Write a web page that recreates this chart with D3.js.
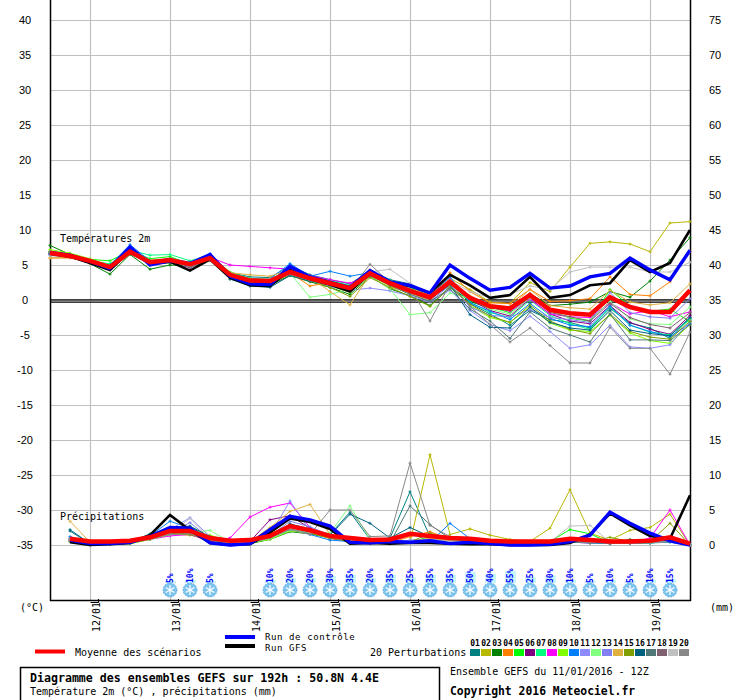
<!DOCTYPE html>
<html>
<head>
<meta charset="utf-8">
<script src="https://cdnjs.cloudflare.com/ajax/libs/d3/7.8.5/d3.min.js"></script>
<style>
  body { margin: 0; background: #fff; }
  svg { display: block; }
  text { fill: #000; }
</style>
</head>
<body>
<svg id="chart"></svg>
<script>
const runStart = Date.UTC(2016, 0, 11, 12);
const tempHours = d3.range(0, 193, 6);   // 0 .. 192h
const precHours = d3.range(6, 193, 6);   // 6 .. 192h

const tempTicks = [40, 35, 30, 25, 20, 15, 10, 5, 0, -5, -10, -15, -20, -25, -30, -35];
const precTicks = [75, 70, 65, 60, 55, 50, 45, 40, 35, 30, 25, 20, 15, 10, 5, 0];

const tempMean = [6.7,6.3,5.6,4.7,6.9,5.4,5.7,5.1,6.0,3.6,2.8,2.7,4.0,3.1,2.4,1.7,3.8,2.4,1.3,0.4,2.6,0.3,-0.9,-1.2,0.7,-1.4,-1.9,-2.1,0.4,-1.0,-1.7,-1.7,1.4];
const tempCtrl = [6.8,6.4,5.5,4.5,7.6,5.0,5.6,5.2,6.5,3.4,2.3,2.2,4.8,3.3,2.5,1.8,4.2,2.6,2.1,1.0,5.0,3.1,1.4,1.8,3.8,1.7,2.0,3.3,3.8,6.0,4.3,2.9,7.1];
const tempGfs  = [6.6,6.2,5.3,4.3,7.0,5.2,5.5,4.2,5.8,3.2,2.1,2.0,4.3,3.0,2.2,1.2,3.9,2.5,2.0,1.0,3.6,2.1,0.3,0.7,3.3,0.3,0.7,2.1,2.4,5.7,4.0,5.3,10.0];

const tempPerts = [
  [6.5,6.2,5.3,4.4,6.6,5.6,5.9,5.3,6.2,3.9,3.3,3.2,4.9,3.6,2.9,2.3,4.2,2.9,2.3,0.8,2.7,-0.5,-2.0,-3.6,-1.5,-2.8,-3.2,-4.0,-1.2,-3.3,-4.0,-5.5,-2.6],
  [7.0,6.6,5.8,5.0,7.2,5.0,5.3,4.8,5.9,3.3,2.5,2.4,3.6,2.9,2.6,1.9,4.0,2.7,1.9,0.6,3.1,1.5,-0.3,-0.5,2.5,1.2,4.7,8.1,8.3,8.0,6.9,11.0,11.2],
  [7.8,6.5,5.2,3.7,6.5,4.4,5.0,4.9,5.8,3.0,2.2,2.1,3.5,2.6,1.8,0.8,3.4,1.6,0.6,-0.8,1.9,-0.2,-1.2,-1.0,0.9,-0.8,-0.6,-0.3,1.2,0.4,2.7,5.7,8.9],
  [6.0,6.0,5.4,4.9,7.0,5.7,5.8,5.3,6.1,3.8,3.0,2.9,3.9,2.0,2.5,1.5,4.3,1.9,1.0,0.0,3.9,1.2,-0.4,-0.5,1.5,-0.2,-0.1,0.2,3.3,0.8,0.6,2.6,6.9],
  [6.9,6.5,5.8,5.6,7.0,5.9,6.2,5.1,6.3,4.0,3.0,2.9,4.2,3.4,2.8,2.0,4.0,2.6,1.8,0.2,2.4,0.0,-1.0,-1.8,0.5,-1.5,-2.6,-3.0,1.5,-0.9,-1.6,-1.3,-3.1],
  [6.6,6.4,5.6,4.5,7.2,5.3,5.4,4.6,5.9,3.5,2.8,2.8,4.1,3.2,2.4,1.6,3.6,2.2,1.2,0.5,2.3,0.1,-1.5,-2.3,0.2,-2.0,-3.0,-3.4,-0.8,-3.2,-4.2,-4.9,-2.2],
  [6.8,6.4,5.5,5.2,7.1,6.4,6.5,5.6,6.4,3.9,3.1,3.0,4.3,3.3,2.7,2.1,4.1,2.8,1.9,0.9,2.5,-0.3,-1.8,-2.5,0.0,-2.2,-3.4,-4.2,-1.0,-3.6,-4.6,-5.0,-2.8],
  [6.6,6.3,5.6,4.6,6.8,5.5,5.6,5.0,6.1,5.0,4.8,4.6,4.4,3.5,2.9,2.4,3.6,2.5,1.5,0.5,3.0,0.4,-1.0,-1.6,0.1,-2.0,-2.4,-2.5,-0.4,-2.0,-1.5,-2.4,-1.7],
  [7.2,6.7,5.9,4.8,6.7,5.2,5.5,5.0,5.9,3.4,2.4,2.3,3.7,2.8,2.0,1.1,3.5,2.0,0.9,0.4,2.0,-0.8,-2.5,-3.2,-1.0,-3.3,-4.3,-4.5,-2.2,-4.7,-5.8,-6.2,-3.5],
  [6.4,6.1,5.4,5.0,7.9,5.6,5.9,5.4,6.6,3.7,2.6,3.0,5.2,3.4,4.1,3.4,3.9,2.5,1.5,0.6,3.3,-0.4,-1.6,-2.8,-0.5,-2.6,-3.6,-3.8,-0.9,-3.6,-4.5,-5.2,-3.4],
  [6.5,6.3,5.7,4.6,6.8,5.6,5.7,5.0,6.0,3.2,2.6,2.5,4.1,3.0,1.9,1.4,1.7,1.3,0.6,-0.3,1.4,-1.5,-3.5,-4.4,-2.3,-4.5,-6.9,-6.4,-3.6,-6.7,-6.9,-6.4,-3.0],
  [6.8,6.4,5.7,4.9,6.7,5.4,5.7,5.1,6.0,3.3,2.5,2.6,3.8,0.4,0.8,1.6,3.4,1.6,-2.1,-1.8,1.0,0.2,-1.3,-2.0,0.3,-1.6,-2.5,-2.9,-0.2,-2.7,-3.4,-3.5,-1.0],
  [6.7,6.3,5.6,4.8,7.0,5.4,5.6,5.0,6.0,3.7,2.9,2.8,4.0,3.1,2.4,1.7,3.8,2.3,1.0,-0.2,2.1,-1.0,-2.2,-2.4,-1.4,-2.5,-2.8,-3.2,1.1,-1.8,-2.4,-2.6,0.2],
  [6.0,6.1,5.2,4.5,6.6,5.2,5.5,4.8,5.8,3.9,3.6,3.4,4.3,3.3,1.2,-0.7,3.7,2.1,0.9,-0.1,2.6,0.6,-0.7,-1.0,1.5,-0.8,-1.1,-1.3,1.4,-0.3,-0.7,-0.4,2.3],
  [6.9,6.3,5.5,4.5,6.6,5.3,5.6,5.0,5.9,3.4,2.6,2.5,3.8,2.9,1.8,0.5,3.2,1.8,0.5,-0.9,1.8,-0.6,-2.3,-3.2,-0.7,-3.0,-4.2,-4.8,-2.0,-4.5,-5.3,-5.6,-3.0],
  [6.7,6.2,5.5,4.4,6.9,5.4,5.3,4.8,6.0,3.0,2.0,1.8,3.5,2.7,2.2,1.4,3.5,2.3,1.1,0.1,2.2,-2.1,-3.9,-4.0,-1.0,-3.2,-4.0,-4.3,-1.5,-4.3,-4.8,-5.1,-2.5],
  [6.6,6.4,5.4,4.3,6.8,5.3,5.6,5.0,5.9,3.4,2.6,2.6,3.8,3.0,2.1,1.3,3.5,2.1,0.8,-0.2,1.6,-1.3,-3.0,-5.5,-1.7,-4.0,-5.0,-6.0,-2.0,-5.7,-5.7,-5.8,-3.5],
  [6.8,6.5,5.6,4.7,6.8,5.5,5.8,5.1,6.1,3.6,2.8,2.7,4.0,3.2,2.6,1.8,4.1,2.5,1.3,0.3,2.4,0.2,-1.1,-1.5,0.6,-1.8,-2.4,-3.0,-0.5,-2.5,-3.5,-4.0,-1.8],
  [6.3,6.2,5.4,4.6,6.8,5.3,5.5,5.1,6.0,3.8,3.0,3.0,4.2,3.1,2.5,1.6,4.0,4.4,2.4,0.8,2.8,1.2,0.3,0.8,2.0,1.5,4.0,4.7,4.7,4.7,4.0,4.0,5.4],
  [6.9,6.4,5.6,4.4,6.6,5.1,5.4,4.7,5.6,3.3,2.4,2.3,3.7,2.8,2.1,1.5,5.1,2.5,1.7,-3.0,2.3,-0.9,-3.5,-6.0,-4.0,-6.5,-9.0,-9.0,-3.9,-6.9,-6.9,-10.6,-4.6]
];

const precMean = [0.9,0.5,0.5,0.6,1.1,2.0,2.0,1.0,0.6,0.7,1.3,2.7,2.1,1.3,1.0,0.7,0.8,1.6,1.3,1.0,0.9,0.6,0.5,0.5,0.5,0.9,0.7,0.5,0.5,0.6,1.1,0.2];
const precCtrl = [0.7,0.2,0.2,0.4,1.2,2.5,2.4,0.3,0.0,0.2,2.2,4.1,3.6,2.7,0.4,0.3,0.5,0.4,0.6,0.2,0.4,0.2,0.0,0.0,0.1,0.5,1.4,4.7,3.1,1.7,0.6,0.0];
const precGfs  = [0.4,0.0,0.1,0.3,1.4,4.3,2.1,0.3,0.0,0.1,1.8,3.8,3.3,2.3,0.2,0.3,0.2,0.3,0.3,0.2,0.1,0.1,0.0,0.0,0.0,0.3,1.5,4.5,2.8,1.3,0.9,7.1];

const precPerts = [
  [2.2,0.2,0.3,0.4,1.6,2.3,2.6,1.0,0.4,0.5,1.2,3.0,2.2,1.5,4.7,0.8,1.0,7.6,1.2,0.5,0.6,0.3,0.2,0.2,0.2,0.6,0.4,0.3,0.2,0.4,0.6,0.0],
  [0.8,0.2,0.2,0.3,0.9,1.6,1.4,0.8,0.3,0.4,1.0,2.0,1.8,1.0,0.8,0.5,0.3,0.3,12.9,1.5,2.3,1.4,0.8,0.5,2.4,7.9,1.7,0.7,2.1,2.5,4.4,0.0],
  [0.6,0.0,0.1,0.2,0.8,1.5,1.8,0.5,0.1,0.2,0.8,1.9,1.6,1.0,0.6,0.3,0.2,0.4,0.6,0.3,0.3,0.2,0.2,0.2,0.3,0.5,0.4,0.2,0.8,0.5,0.6,0.0],
  [1.0,0.3,0.2,0.3,1.0,1.8,2.0,0.7,0.3,0.4,1.6,2.9,1.8,0.9,0.5,0.4,0.3,1.2,1.9,0.8,0.6,0.4,0.2,0.2,0.3,0.6,0.4,0.3,0.4,0.5,0.8,0.0],
  [0.7,0.1,0.2,0.3,0.9,1.7,1.6,0.9,0.4,0.3,1.0,2.4,2.0,1.2,0.6,0.3,0.5,0.4,1.2,0.9,0.6,0.4,0.3,0.4,0.5,2.2,1.6,0.3,0.4,0.4,0.5,0.0],
  [0.5,0.1,0.2,0.4,1.0,1.9,2.0,0.6,0.2,0.5,3.6,4.2,2.4,1.1,0.4,0.3,0.2,0.5,0.6,0.4,0.3,0.2,0.2,0.1,0.2,0.4,0.3,0.2,0.3,0.3,0.5,0.0],
  [0.6,0.1,0.1,0.3,1.1,1.7,2.1,1.2,0.3,0.3,0.9,2.2,1.9,1.3,0.8,0.4,0.3,0.6,0.8,0.5,0.4,0.3,0.2,0.2,0.4,0.8,0.5,0.3,0.3,0.3,0.5,0.0],
  [0.8,0.1,0.2,0.3,0.8,1.3,1.5,0.5,1.0,4.0,5.4,6.0,2.5,1.0,0.5,0.4,0.3,0.5,0.6,0.4,0.3,0.3,0.2,0.2,0.3,0.4,0.3,0.2,0.3,1.0,5.0,0.0],
  [0.5,0.1,0.1,0.2,0.8,1.5,1.9,1.4,0.5,0.3,0.8,2.0,1.7,1.1,0.6,0.4,0.3,0.6,0.7,0.5,0.3,0.3,0.2,0.3,0.2,0.5,0.3,0.2,0.3,0.3,0.4,0.0],
  [1.2,0.2,0.2,0.3,1.3,3.4,2.4,0.8,0.3,0.4,1.1,2.6,1.5,0.7,0.5,0.3,0.3,0.5,0.4,3.1,0.9,0.5,0.3,0.2,0.2,0.4,0.3,0.2,0.3,0.3,0.4,0.0],
  [0.6,0.1,0.2,0.4,1.2,2.2,3.9,1.2,0.3,0.3,1.4,6.3,2.0,1.2,0.6,0.4,0.3,1.5,0.8,0.6,0.4,0.3,0.2,0.2,0.3,0.5,0.5,0.4,0.3,0.5,0.6,0.0],
  [0.7,0.2,0.2,0.3,1.0,1.8,1.7,2.1,0.4,0.3,0.9,2.1,1.8,1.7,5.6,0.8,0.4,0.6,0.9,0.7,0.5,0.4,0.3,0.3,0.4,0.8,0.5,0.3,0.4,0.4,0.5,0.0],
  [0.9,0.2,0.2,0.3,1.0,1.7,3.2,0.9,0.3,0.4,1.3,3.4,2.6,1.4,0.7,0.4,0.4,0.7,0.8,0.6,0.4,0.3,0.2,0.2,0.3,0.6,0.4,0.3,0.3,0.4,0.5,0.0],
  [3.4,0.4,0.2,0.3,1.0,1.8,1.9,0.8,0.3,0.5,2.5,4.8,5.8,1.5,0.6,0.4,0.3,0.5,1.0,0.6,0.5,0.4,0.3,0.3,0.4,0.6,0.4,0.3,0.4,0.5,0.7,0.0],
  [0.6,0.1,0.1,0.3,0.9,1.6,1.5,0.7,0.3,0.3,1.0,2.5,1.7,1.0,0.5,0.3,0.3,0.4,1.7,0.9,0.4,0.3,0.2,0.2,0.3,0.5,0.4,1.1,0.5,0.5,3.1,0.0],
  [2.0,0.2,0.2,0.3,1.3,2.5,2.7,1.2,0.4,0.5,1.2,3.0,2.3,1.4,4.4,3.1,1.0,2.5,1.2,0.9,0.6,0.4,0.3,0.3,0.4,0.6,0.5,0.3,0.4,0.5,0.6,0.0],
  [0.8,0.2,0.2,0.3,1.1,2.0,2.2,0.8,0.3,0.4,1.2,2.8,2.0,1.3,0.7,0.4,0.3,5.6,2.9,0.9,0.5,0.3,0.2,0.2,0.3,0.5,0.4,0.3,0.3,0.4,0.5,0.0],
  [0.6,0.1,0.2,0.3,0.9,1.7,1.8,0.7,0.3,0.4,1.1,2.3,1.8,1.1,0.6,0.4,0.3,0.5,0.6,0.5,0.4,0.3,0.2,0.2,0.3,0.5,0.4,0.3,0.3,0.4,0.5,0.0],
  [0.7,0.2,0.2,0.3,1.0,1.6,3.8,0.9,0.3,0.4,1.0,2.4,1.8,1.2,0.6,0.5,0.4,0.6,0.7,0.5,0.4,0.3,0.2,0.2,0.4,2.7,2.8,0.4,0.3,0.4,0.5,0.0],
  [0.5,0.1,0.1,0.3,0.9,1.5,1.6,0.6,0.2,0.3,1.0,2.2,1.5,5.0,5.0,1.2,1.3,11.7,2.8,1.2,0.5,0.3,0.2,0.2,0.3,0.5,0.4,0.3,0.3,0.4,0.5,0.0]
];

const pertNames = ['01','02','03','04','05','06','07','08','09','10','11','12','13','14','15','16','17','18','19','20'];
const pertColors = ['#008080','#b8b800','#008000','#ff8000','#00ff00','#800080','#00ff80','#ff00ff','#80ff00','#0080ff',
                    '#8c8cff','#80ff80','#8080f0','#e0b040','#80a000','#006080','#507878','#806070','#c0c0c0','#888888'];

const snowHours = [36,42,48,66,72,78,84,90,96,102,108,114,120,126,132,138,144,150,156,162,168,174,180,186];
const snowPct   = [5,10,5,10,20,20,30,35,20,35,25,35,35,50,40,55,25,30,10,5,10,5,10,15];

// --- layout ---
const W = 740, H = 700;
const left = 50, right = 690, bottom = 600;
const mono = '"DejaVu Sans Mono", monospace';
const sans = '"Liberation Sans", Arial, sans-serif';

const svg = d3.select('#chart').attr('width', W).attr('height', H);

const hourDate = h => new Date(runStart + h * 3600e3);
const x = d3.scaleUtc().domain([hourDate(0), hourDate(192)]).range([left, right]);
const yT = d3.scaleLinear().domain([-35, 40]).range([545, 20]);
const yP = d3.scaleLinear().domain([0, 75]).range([545, 20]);

// grid
const grid = svg.append('g');
grid.selectAll('line.h').data(tempTicks).join('line')
  .attr('x1', left).attr('x2', right)
  .attr('y1', d => yT(d) + 0.5).attr('y2', d => yT(d) + 0.5)
  .attr('stroke', '#c0c0c0').attr('stroke-width', 1.2);

const days = x.ticks(d3.utcDay.every(1)).filter(d => d.getUTCHours() === 0);
grid.selectAll('line.v').data(days).join('line')
  .attr('x1', d => x(d) + 0.5).attr('x2', d => x(d) + 0.5)
  .attr('y1', 0).attr('y2', bottom)
  .attr('stroke', '#c0c0c0').attr('stroke-width', 1.2);

// zero line (double)
[-0.2, 2.2].forEach(off => {
  svg.append('line').attr('x1', left).attr('x2', right)
    .attr('y1', yT(0) + off).attr('y2', yT(0) + off)
    .attr('stroke', '#000').attr('stroke-width', 1.3);
});

// frame
svg.append('path')
  .attr('d', `M${left + 0.5},0V${bottom + 0.5}H${right + 0.5}V0`)
  .attr('fill', 'none').attr('stroke', '#000').attr('stroke-width', 1.5);

// tick labels
svg.append('g').selectAll('text').data(tempTicks).join('text')
  .attr('x', 25).attr('y', d => yT(d) + 4)
  .attr('text-anchor', 'middle')
  .style('font', `11px ${sans}`)
  .text(d => d);

svg.append('g').selectAll('text').data(precTicks).join('text')
  .attr('x', 709).attr('y', d => yP(d) + 4)
  .style('font', `11px ${sans}`)
  .text(d => d);

const fmtDay = d3.utcFormat('%d/%m');
svg.append('g').selectAll('text').data(days).join('text')
  .attr('transform', d => `translate(${x(d) + 10},602) rotate(-90)`)
  .attr('text-anchor', 'end')
  .style('font', `10px ${mono}`)
  .text(d => fmtDay(d));

svg.append('g').selectAll('path').data(days).join('path')
  .attr('d', d => `M${x(d) + 0.5},602.5H${x(d) + 8.5}V599`)
  .attr('fill', 'none').attr('stroke', '#000').attr('stroke-width', 1);

svg.append('text').attr('x', 20).attr('y', 611).style('font', `10px ${mono}`).text('(°C)');
svg.append('text').attr('x', 710).attr('y', 611).style('font', `10px ${mono}`).text('(mm)');

svg.append('text').attr('x', 60).attr('y', 242).style('font', `10px ${mono}`).text('Températures 2m');
svg.append('text').attr('x', 60).attr('y', 520).style('font', `10px ${mono}`).text('Précipitations');

// series
const lineT = d3.line().x((d, i) => x(hourDate(tempHours[i]))).y(d => yT(d));
const lineP = d3.line().x((d, i) => x(hourDate(precHours[i]))).y(d => yP(d));
const plus = 'M-1.5,0H1.5M0,-1.5V1.5';

function drawSeries(values, hours, line, yScale, color, width, marks) {
  const g = svg.append('g');
  g.append('path').attr('d', line(values))
    .attr('fill', 'none').attr('stroke', color)
    .attr('stroke-width', width).attr('stroke-linejoin', 'miter');
  if (marks) {
    g.selectAll('path.m').data(values).join('path')
      .attr('class', 'm')
      .attr('transform', (d, i) => `translate(${x(hourDate(hours[i]))},${yScale(d)})`)
      .attr('d', plus).attr('stroke', color).attr('stroke-width', 1);
  }
}

tempPerts.forEach((s, k) => drawSeries(s, tempHours, lineT, yT, pertColors[k], 1, true));
precPerts.forEach((s, k) => drawSeries(s, precHours, lineP, yP, pertColors[k], 1, true));

drawSeries(tempGfs, tempHours, lineT, yT, '#000', 2.6, false);
drawSeries(precGfs, precHours, lineP, yP, '#000', 2.6, false);
drawSeries(tempCtrl, tempHours, lineT, yT, '#0000ff', 3.4, false);
drawSeries(precCtrl, precHours, lineP, yP, '#0000ff', 3.4, false);
drawSeries(tempMean, tempHours, lineT, yT, '#ff0000', 4.5, false);
drawSeries(precMean, precHours, lineP, yP, '#ff0000', 4.5, false);

// snow probability row
const snow = svg.append('g').selectAll('g').data(snowHours).join('g')
  .attr('transform', d => `translate(${x(hourDate(d))},0)`);

snow.append('rect')
  .attr('x', -5).attr('width', 11)
  .attr('y', (d, i) => 583 - (snowPct[i] / 5 + 1))
  .attr('height', (d, i) => snowPct[i] / 5 + 1)
  .attr('fill', '#c8f4fc');

snow.append('text')
  .attr('transform', 'translate(3,583) rotate(-90)')
  .style('font', `bold 8px ${mono}`)
  .style('fill', '#0000ff')
  .text((d, i) => snowPct[i] + '%');

snow.append('circle').attr('cx', 0).attr('cy', 590).attr('r', 7)
  .attr('fill', '#7cc4ee');
[0, 60, 120].forEach(a => {
  snow.append('line')
    .attr('x1', 0).attr('y1', -5).attr('x2', 0).attr('y2', 5)
    .attr('transform', `translate(0,590) rotate(${a})`)
    .attr('stroke', '#ffffff').attr('stroke-width', 1.3);
});
snow.append('circle').attr('cx', 0).attr('cy', 590).attr('r', 7)
  .attr('fill', 'none').attr('stroke', '#4a9fdc').attr('stroke-width', 0.8)
  .attr('stroke-dasharray', '1.5,1.5');

// legend
const legFont = `9px ${mono}`;
svg.append('line').attr('x1', 35).attr('x2', 65).attr('y1', 651.5).attr('y2', 651.5)
  .attr('stroke', '#ff0000').attr('stroke-width', 4);
svg.append('text').attr('x', 75).attr('y', 656).style('font', `10px ${mono}`).text('Moyenne des scénarios');

svg.append('line').attr('x1', 225).attr('x2', 255).attr('y1', 637).attr('y2', 637)
  .attr('stroke', '#0000ff').attr('stroke-width', 4);
svg.append('text').attr('x', 265).attr('y', 640).style('font', legFont)
  .style('letter-spacing', '0.6px').text('Run de contrôle');
svg.append('line').attr('x1', 225).attr('x2', 255).attr('y1', 646).attr('y2', 646)
  .attr('stroke', '#000').attr('stroke-width', 4);
svg.append('text').attr('x', 265).attr('y', 650.5).style('font', legFont)
  .style('letter-spacing', '0.6px').text('Run GFS');

svg.append('text').attr('x', 370).attr('y', 656).style('font', `10px ${mono}`).text('20 Perturbations');

const sw = svg.append('g').selectAll('g').data(pertNames).join('g')
  .attr('transform', (d, i) => `translate(${470 + i * 11},0)`);
sw.append('rect').attr('x', 0).attr('y', 649).attr('width', 10).attr('height', 7)
  .attr('fill', (d, i) => pertColors[i]);
sw.append('text').attr('x', 5).attr('y', 646).attr('text-anchor', 'middle')
  .style('font', `bold 8px ${mono}`).text(d => d);

// title box
svg.append('rect').attr('x', 20.5).attr('y', 667.5).attr('width', 419).attr('height', 40)
  .attr('fill', 'none').attr('stroke', '#000').attr('stroke-width', 1.5);
svg.append('text').attr('x', 30).attr('y', 682)
  .style('font', `bold 11.6px ${mono}`)
  .text('Diagramme des ensembles GEFS sur 192h : 50.8N 4.4E');
svg.append('text').attr('x', 30).attr('y', 695)
  .style('font', `10px ${mono}`)
  .text('Température 2m (°C) , précipitations (mm)');

svg.append('text').attr('x', 450).attr('y', 675)
  .style('font', `10px ${mono}`)
  .text('Ensemble GEFS du 11/01/2016 - 12Z');
svg.append('text').attr('x', 450).attr('y', 695)
  .style('font', `bold 11.4px ${mono}`)
  .text('Copyright 2016 Meteociel.fr');
</script>
</body>
</html>
